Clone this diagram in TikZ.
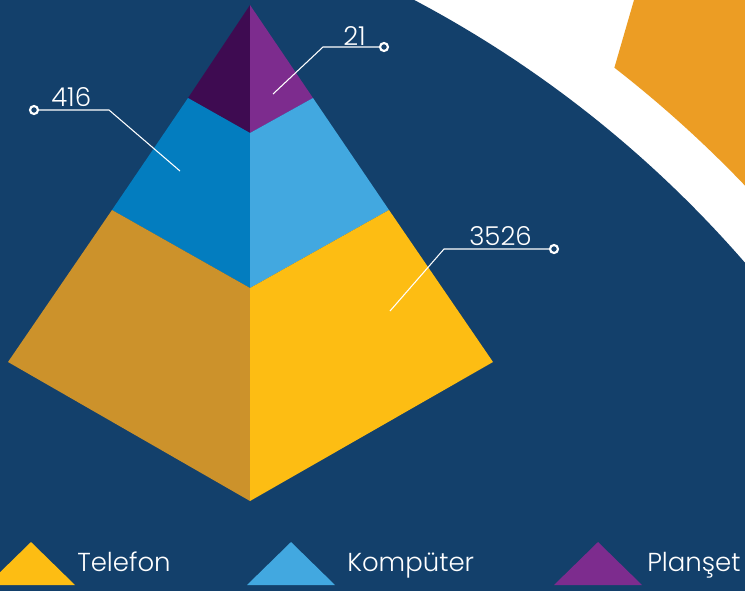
\documentclass[tikz,border=0pt]{standalone}
\usepackage{fontspec}
\setmainfont{Poppins}[UprightFont = * Light]
\usepackage{tikz}

\definecolor{navy}{RGB}{19,64,107}
\definecolor{ring}{RGB}{236,157,36}
\definecolor{telR}{RGB}{253,189,19}
\definecolor{telL}{RGB}{204,146,43}
\definecolor{kompR}{RGB}{66,168,224}
\definecolor{kompL}{RGB}{3,125,191}
\definecolor{planR}{RGB}{125,44,142}
\definecolor{planL}{RGB}{62,11,81}

\tikzset{
  leader/.style={draw=white, line width=0.8pt},
  tipdot/.style={circle, draw=white, fill=navy, line width=1.6pt, inner sep=0pt, minimum size=6pt},
  value/.style={text=white, font=\fontsize{19.5}{22}\selectfont, inner sep=0pt},
  legtext/.style={text=white, font=\fontsize{19.5}{22}\selectfont, inner sep=0pt, anchor=base west},
}

\begin{document}
\begin{tikzpicture}[x=0.75pt,y=0.75pt,yscale=-1]
\useasboundingbox (0,0) rectangle (745,590);

%Shape: Background
\fill [white] (0,0) rectangle (745,590);
\fill [navy] (-120,1013) circle (1145);
%Shape: Orange ring
\begin{scope}
\clip (640,-20) -- (634,0) -- (614,69) -- (590,200) -- (800,400) -- (800,-20) -- cycle;
\fill [ring, even odd rule] (-120,1013) circle (1197) (-120,1013) circle (1600);
\end{scope}

%Pyramid corners
\coordinate (apex) at (250,5);
\coordinate (pl) at (188,98);
\coordinate (pr) at (313,98);
\coordinate (pm) at (250,133);
\coordinate (bl) at (112,210);
\coordinate (br) at (389,210);
\coordinate (bm) at (250,288);
\coordinate (yl) at (8,362);
\coordinate (yr) at (493,362);
\coordinate (ym) at (250,501);

%Shape: Top layer
\fill [planL] (apex) -- (pl) -- (pm) -- cycle;
\fill [planR] (apex) -- (pr) -- (pm) -- cycle;
%Shape: Middle layer
\fill [kompL] (pl) -- (bl) -- (bm) -- (pm) -- cycle;
\fill [kompR] (pr) -- (br) -- (bm) -- (pm) -- cycle;
%Shape: Bottom layer
\fill [telL] (bl) -- (yl) -- (ym) -- (bm) -- cycle;
\fill [telR] (br) -- (yr) -- (ym) -- (bm) -- cycle;

%Leader lines
\coordinate (t21) at (273,94);
\coordinate (k21) at (323,47);
\node [tipdot] (d21) at (384,47) {};
\draw [leader] (t21) -- (k21) -- (d21);

\coordinate (t416) at (180,171);
\coordinate (k416) at (109,110);
\node [tipdot] (d416) at (34,110) {};
\draw [leader] (t416) -- (k416) -- (d416);

\coordinate (t3526) at (390,311);
\coordinate (k3526) at (444,249);
\node [tipdot] (d3526) at (554,249) {};
\draw [leader] (t3526) -- (k3526) -- (d3526);

% Text Node
\node [value, anchor=base east] (v21) at (366,45) {21};
% Text Node
\node [value, anchor=base west] (v416) at (51,106) {416};
% Text Node
\node [value, anchor=base west] (v3526) at (469,245) {3526};

%Shape: Legend triangles
\fill [telR] (31,542) -- (75,585) -- (-13,585) -- cycle;
\fill [kompR] (291,542) -- (335,585) -- (247,585) -- cycle;
\fill [planR] (598,542) -- (642,585) -- (554,585) -- cycle;

% Text Node
\node [legtext] (lt) at (77,571) {Telefon};
% Text Node
\node [legtext] (lk) at (347,571) {Kompüter};
% Text Node
\node [legtext] (lp) at (647,571) {Planşet};

\end{tikzpicture}
\end{document}
